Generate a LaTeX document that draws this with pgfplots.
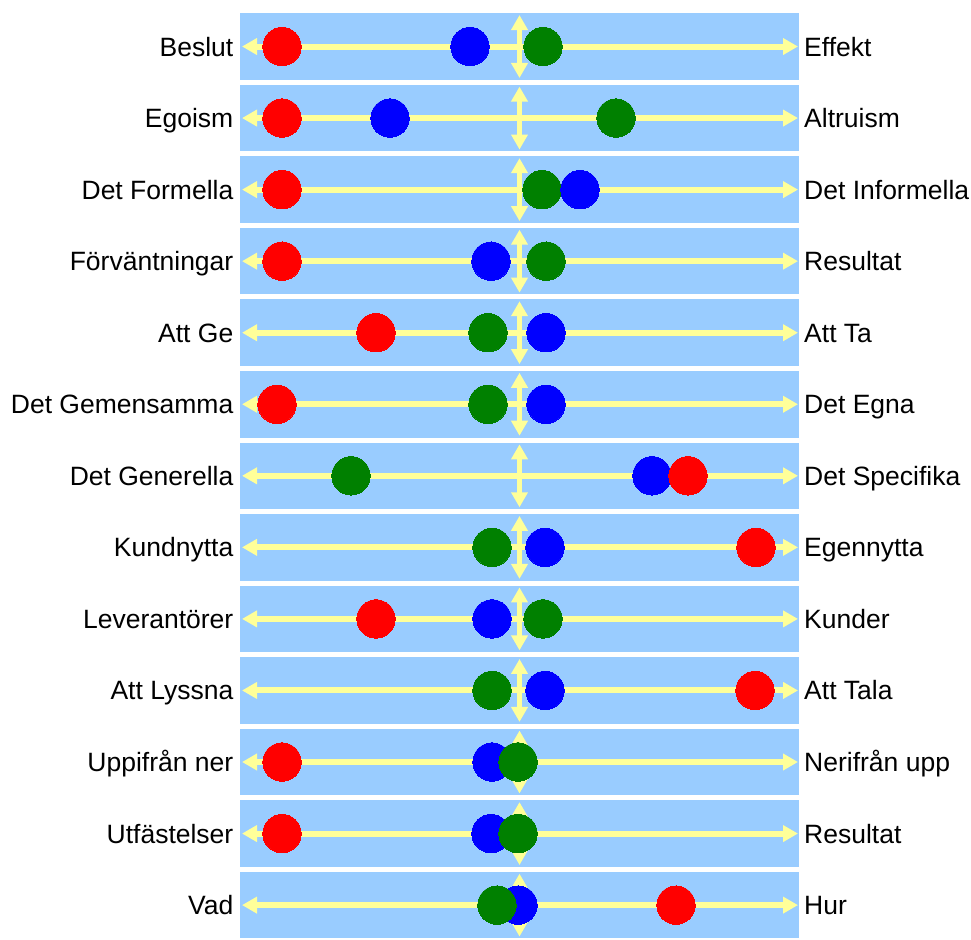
\documentclass[border=0pt]{standalone}
\usepackage{pgfplots}
\pgfplotsset{compat=1.18}
\usepackage{pgfplotstable}
\usetikzlibrary{arrows.meta}
\usepackage{fontspec}
\setmainfont{Liberation Sans}
\definecolor{band}{HTML}{99CCFF}
\definecolor{arr}{HTML}{FFFF99}
\definecolor{dred}{HTML}{FF0000}
\definecolor{dblue}{HTML}{0000FF}
\definecolor{dgreen}{HTML}{008000}
\tikzset{lab/.style={font=\fontsize{26.5}{30}\selectfont, inner sep=0pt, yshift=-9.5pt}}

\pgfplotstableread{
row red blue green
0  282 470 543
1  282 390 616
2  282 580 542
3  282 491 546
4  376 546 488
5  277 546 488
6  688 652 351
7  756 545 492
8  376 492 543
9  755 545 492
10 282 492 518
11 282 491 518
12 676 518 497
}\rowdata

\pgfplotstableread{
row green
10 518
11 518
12 497
}\greentop

\begin{document}
\begin{tikzpicture}
\begin{axis}[
  scale only axis, width=971pt, height=933pt,
  xmin=0, xmax=971, ymin=-0.650, ymax=12.390,
  y dir=reverse, axis lines=none, clip=false,
]
% invisible frame that fixes the picture's extent
\addplot[draw=none, forget plot] coordinates {(0,-0.650) (971,12.390)};
% bands
\pgfplotsinvokeforeach{0,...,12}{
  \addplot[band, line width=66.5pt, line cap=butt, forget plot] coordinates {(240,#1) (799,#1)};
}
% horizontal arrows
\pgfplotsinvokeforeach{0,...,12}{
  \addplot[arr, line width=6pt, {Triangle[width=16pt,length=15pt]}-{Triangle[width=16pt,length=15pt]}, forget plot] coordinates {(242,#1) (798,#1)};
}
% vertical arrows
\pgfplotsinvokeforeach{0,...,12}{
  \addplot[arr, line width=5.5pt, {Triangle[width=16pt,length=15pt]}-{Triangle[width=16pt,length=15pt]}, forget plot] coordinates {(519.5,#1-0.44) (519.5,#1+0.44)};
}
% dots
\addplot[only marks, mark=*, mark size=19.2pt, mark options={fill=dgreen, draw=dgreen, line width=0pt}] table[x=green, y=row] {\rowdata};
\addplot[only marks, mark=*, mark size=19.2pt, mark options={fill=dblue, draw=dblue, line width=0pt}] table[x=blue, y=row] {\rowdata};
\addplot[only marks, mark=*, mark size=19.2pt, mark options={fill=dred, draw=dred, line width=0pt}] table[x=red, y=row] {\rowdata};
\addplot[only marks, mark=*, mark size=19.2pt, mark options={fill=dgreen, draw=dgreen, line width=0pt}] table[x=green, y=row] {\greentop};
% left labels
\node[lab, anchor=base east] at (axis cs:233.5,0) {Beslut};
\node[lab, anchor=base east] at (axis cs:233.5,1) {Egoism};
\node[lab, anchor=base east] at (axis cs:233.5,2) {Det Formella};
\node[lab, anchor=base east] at (axis cs:233.5,3) {Förväntningar};
\node[lab, anchor=base east] at (axis cs:233.5,4) {Att Ge};
\node[lab, anchor=base east] at (axis cs:233.5,5) {Det Gemensamma};
\node[lab, anchor=base east] at (axis cs:233.5,6) {Det Generella};
\node[lab, anchor=base east] at (axis cs:233.5,7) {Kundnytta};
\node[lab, anchor=base east] at (axis cs:233.5,8) {Leverantörer};
\node[lab, anchor=base east] at (axis cs:233.5,9) {Att Lyssna};
\node[lab, anchor=base east] at (axis cs:233.5,10) {Uppifrån ner};
\node[lab, anchor=base east] at (axis cs:233.5,11) {Utfästelser};
\node[lab, anchor=base east] at (axis cs:233.5,12) {Vad};
% right labels
\node[lab, anchor=base west] at (axis cs:804,0) {Effekt};
\node[lab, anchor=base west] at (axis cs:804,1) {Altruism};
\node[lab, anchor=base west] at (axis cs:804,2) {Det Informella};
\node[lab, anchor=base west] at (axis cs:804,3) {Resultat};
\node[lab, anchor=base west] at (axis cs:804,4) {Att Ta};
\node[lab, anchor=base west] at (axis cs:804,5) {Det Egna};
\node[lab, anchor=base west] at (axis cs:804,6) {Det Specifika};
\node[lab, anchor=base west] at (axis cs:804,7) {Egennytta};
\node[lab, anchor=base west] at (axis cs:804,8) {Kunder};
\node[lab, anchor=base west] at (axis cs:804,9) {Att Tala};
\node[lab, anchor=base west] at (axis cs:804,10) {Nerifrån upp};
\node[lab, anchor=base west] at (axis cs:804,11) {Resultat};
\node[lab, anchor=base west] at (axis cs:804,12) {Hur};
\end{axis}
\end{tikzpicture}
\end{document}
